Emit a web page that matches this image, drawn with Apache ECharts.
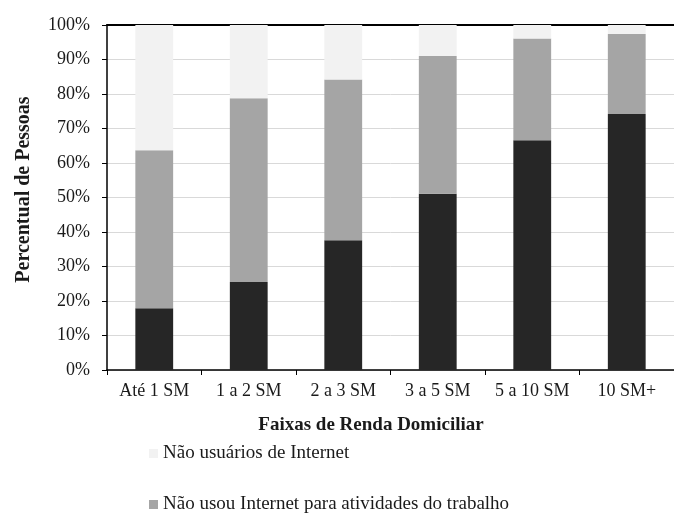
<!DOCTYPE html>
<html>
<head>
<meta charset="utf-8">
<script src="https://cdn.jsdelivr.net/npm/echarts@6/dist/echarts.min.js"></script>
<style>
  html, body { margin: 0; padding: 0; background: #ffffff; }
  #chart { width: 674px; height: 513px; }
</style>
</head>
<body>
<div id="chart"></div>
<script>
// Faixas de renda domiciliar (salários mínimos)
const categories = ['Até 1 SM', '1 a 2 SM', '2 a 3 SM', '3 a 5 SM', '5 a 10 SM', '10 SM+'];

// Percentual de pessoas em cada grupo (empilhado até 100%)
const usouTrabalho = [17.9, 25.5, 37.6, 51.1, 66.6, 74.2];
const naoUsouTrabalho = [45.8, 53.3, 46.6, 39.9, 29.5, 23.2];
const naoUsuarios = [36.3, 21.2, 15.8, 9.0, 3.9, 2.6];

const seriesNames = [
  'Usou Internet para atividades do trabalho',
  'Não usou Internet para atividades do trabalho',
  'Não usuários de Internet'
];

const yTicks = [0, 10, 20, 30, 40, 50, 60, 70, 80, 90, 100];

const FONT = '"Liberation Serif", "DejaVu Serif", serif';
const TEXT = '#1a1a1a';

const legendBase = {
  orient: 'vertical',
  left: 144,
  itemWidth: 9,
  itemHeight: 9,
  icon: 'rect',
  textStyle: { fontFamily: FONT, fontSize: 19, color: TEXT }
};

const chart = echarts.init(document.getElementById('chart'), null, { renderer: 'canvas' });

chart.setOption({
  animation: false,
  backgroundColor: '#ffffff',
  textStyle: { fontFamily: FONT },
  grid: { left: 107, top: 25, width: 582, height: 345, containLabel: false },
  legend: [
    Object.assign({}, legendBase, { top: 439, data: [seriesNames[2]] }),
    Object.assign({}, legendBase, { top: 490, data: [seriesNames[1]] })
  ],
  xAxis: [{
    type: 'category',
    data: categories,
    position: 'bottom',
    axisLine: { show: true, lineStyle: { color: '#000000', width: 1.5 } },
    axisTick: { show: true, length: 5, lineStyle: { color: '#000000', width: 1 } },
    axisLabel: { fontFamily: FONT, fontSize: 18, color: TEXT, margin: 12, interval: 0 },
    splitLine: { show: false }
  }, {
    type: 'category',
    data: categories,
    position: 'top',
    axisLine: { show: true, lineStyle: { color: '#000000', width: 2 } },
    axisTick: { show: false },
    axisLabel: { show: false }
  }],
  yAxis: {
    type: 'value',
    min: yTicks[0],
    max: yTicks[yTicks.length - 1],
    interval: 10,
    name: 'Percentual de Pessoas',
    nameLocation: 'middle',
    nameGap: 73,
    nameTextStyle: {
      fontFamily: FONT, fontSize: 20, fontWeight: 'bold', color: TEXT,
      padding: [0, 0, 0, 16]
    },
    axisLine: { show: true, lineStyle: { color: '#000000', width: 1.5 } },
    axisTick: { show: true, length: 5, lineStyle: { color: '#000000' } },
    axisLabel: { fontFamily: FONT, fontSize: 18, color: TEXT, margin: 17, formatter: '{value}%' },
    splitLine: { show: true, lineStyle: { color: '#d9d9d9', width: 1 } }
  },
  graphic: [{
    type: 'text',
    style: {
      x: 371,
      y: 425,
      text: 'Faixas de Renda Domiciliar',
      fontFamily: FONT,
      fontSize: 19,
      fontWeight: 'bold',
      fill: TEXT,
      align: 'center',
      verticalAlign: 'middle'
    }
  }],
  series: [{
    name: seriesNames[0],
    type: 'bar',
    stack: 'total',
    barWidth: '40%',
    data: usouTrabalho,
    itemStyle: { color: '#262626' }
  }, {
    name: seriesNames[1],
    type: 'bar',
    stack: 'total',
    barWidth: '40%',
    data: naoUsouTrabalho,
    itemStyle: { color: '#a5a5a5' }
  }, {
    name: seriesNames[2],
    type: 'bar',
    stack: 'total',
    barWidth: '40%',
    data: naoUsuarios,
    itemStyle: { color: '#f2f2f2' }
  }]
});
</script>
</body>
</html>
